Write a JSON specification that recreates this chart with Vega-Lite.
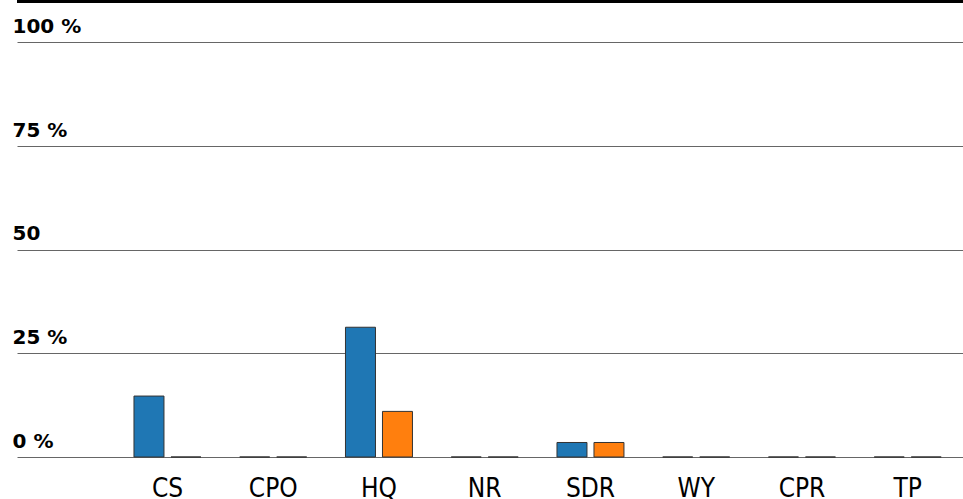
{
  "$schema": "https://vega.github.io/schema/vega-lite/v6.json",
  "autosize": {"type": "none"},
  "padding": {"left": 17, "top": 1, "right": 0, "bottom": 42},
  "width": 946,
  "height": 456,
  "background": "white",
  "config": {"view": {"stroke": null}},
  "data": {
    "values": [
      {"site": "CS", "series": "A", "value": 14.7},
      {"site": "CS", "series": "B", "value": 0},
      {"site": "CPO", "series": "A", "value": 0},
      {"site": "CPO", "series": "B", "value": 0},
      {"site": "HQ", "series": "A", "value": 31.3},
      {"site": "HQ", "series": "B", "value": 11.0},
      {"site": "NR", "series": "A", "value": 0},
      {"site": "NR", "series": "B", "value": 0},
      {"site": "SDR", "series": "A", "value": 3.5},
      {"site": "SDR", "series": "B", "value": 3.5},
      {"site": "WY", "series": "A", "value": 0},
      {"site": "WY", "series": "B", "value": 0},
      {"site": "CPR", "series": "A", "value": 0},
      {"site": "CPR", "series": "B", "value": 0},
      {"site": "TP", "series": "A", "value": 0},
      {"site": "TP", "series": "B", "value": 0}
    ]
  },
  "layer": [
    {
      "mark": {"type": "bar", "stroke": "#333333", "strokeWidth": 1},
      "encoding": {
        "x": {
          "field": "site",
          "type": "nominal",
          "sort": null,
          "scale": {"paddingInner": 0, "paddingOuter": 0.4728, "align": 0.976},
          "axis": {
            "title": null,
            "domain": false,
            "ticks": false,
            "labelAngle": 0,
            "labelFont": "DejaVu Sans Condensed, Liberation Sans Narrow, DejaVu Sans",
            "labelFontSize": 26,
            "labelColor": "#000000",
            "labelBaseline": "alphabetic",
            "labelPadding": 39
          }
        },
        "xOffset": {
          "field": "series",
          "type": "nominal",
          "scale": {"paddingInner": 0.189, "paddingOuter": 0.524}
        },
        "y": {
          "field": "value",
          "type": "quantitative",
          "scale": {"domain": [0, 110], "nice": false, "zero": true},
          "axis": {
            "title": null,
            "values": [0, 25, 50, 75, 100],
            "domain": false,
            "ticks": false,
            "grid": true,
            "gridColor": "#666666",
            "gridWidth": 1,
            "gridOpacity": 1,
            "labelAlign": "left",
            "labelBaseline": "alphabetic",
            "labelPadding": 5,
            "labelOffset": -10,
            "labelFont": "DejaVu Sans",
            "labelFontWeight": "bold",
            "labelFontSize": 20,
            "labelColor": "#000000",
            "labelExpr": "datum.value == 50 ? '50' : datum.label + ' %'"
          }
        },
        "color": {
          "field": "series",
          "type": "nominal",
          "scale": {"domain": ["A", "B"], "range": ["#1f77b4", "#ff7f0e"]},
          "legend": null
        }
      }
    },
    {
      "mark": {"type": "rule", "color": "#000000", "strokeWidth": 3},
      "encoding": {"y": {"datum": 110}}
    }
  ]
}
